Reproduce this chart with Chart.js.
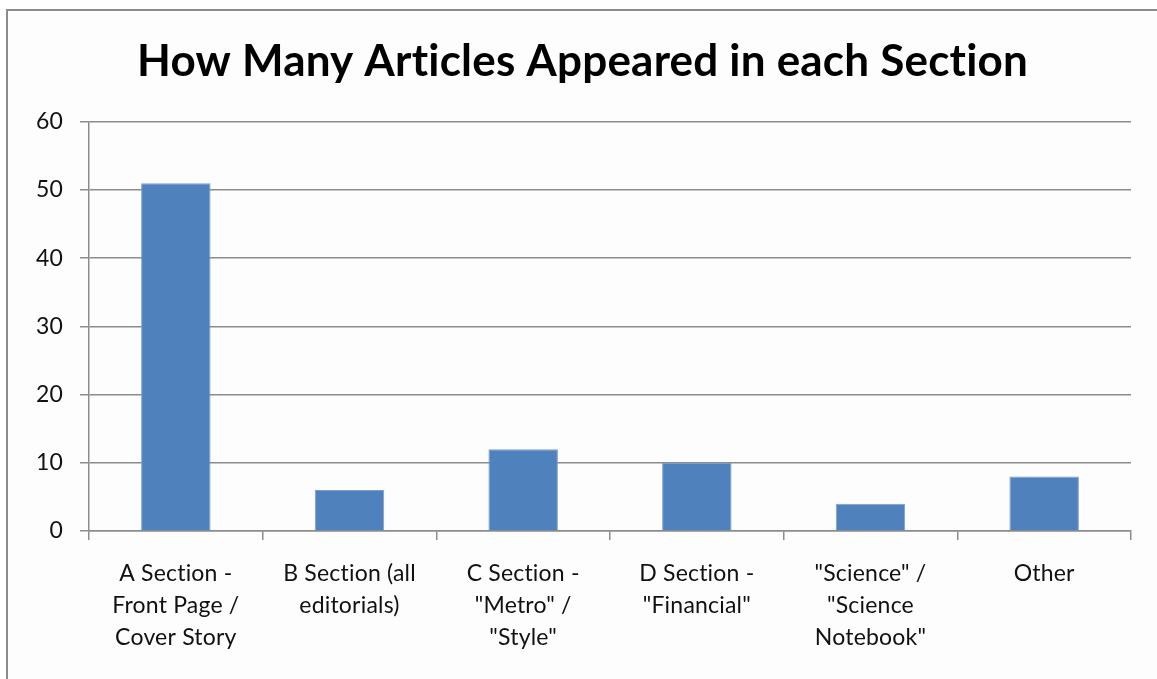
<!DOCTYPE html>
<html>
<head>
<meta charset="utf-8">
<script src="https://cdn.jsdelivr.net/npm/chart.js@4"></script>
<style>
    html, body { margin: 0; padding: 0; background: #fff; overflow: hidden; }
    #frame {
        position: absolute;
        left: 6px;
        top: 9px;
        width: 1200px;
        height: 720px;
        border: 2px solid #8c8c8c;
        background: #fdfdfd;
    }
    #wrap { position: absolute; left: 0; top: 0; width: 1157px; height: 679px; }
</style>
</head>
<body>
<div id="frame"></div>
<div id="wrap"><canvas id="sectionChart" width="1157" height="679"></canvas></div>
<script>
const sections = [
    ['A Section -', 'Front Page /', 'Cover Story'],
    ['B Section (all', 'editorials)'],
    ['C Section -', '"Metro" /', '"Style"'],
    ['D Section -', '"Financial"'],
    ['"Science" /', '"Science', 'Notebook"'],
    'Other',
];
const articleCounts = [51, 6, 12, 10, 4, 8];
const chartTitle = 'How Many Articles Appeared in each Section';

const fontFamily = 'Lato, "Open Sans", sans-serif';
const gridGray = '#8c8c8c';

// a hair of letter spacing keeps Lato from joining "ti" into a ligature,
// and the title is centred on the whole frame instead of the padded area
const tweaks = {
    id: 'tweaks',
    beforeDraw: (chart) => {
        chart.ctx.letterSpacing = '0.2px';
        if (chart.titleBlock) {
            chart.titleBlock.left = 34;
            chart.titleBlock.right = chart.width - 26;
        }
    },
};

new Chart(document.getElementById('sectionChart'), {
    type: 'bar',
    data: {
        labels: sections,
        datasets: [
            {
                label: 'Articles',
                data: articleCounts,
                backgroundColor: '#4f81bd',
                borderColor: '#7aa0cf',
                borderWidth: 1,
                categoryPercentage: 1,
                barPercentage: 0.4,
            },
        ],
    },
    plugins: [tweaks],
    options: {
        responsive: false,
        animation: false,
        layout: {
            padding: { left: 0, right: 26, top: 0, bottom: 0 },
        },
        plugins: {
            legend: { display: false },
            tooltip: { enabled: false },
            title: {
                display: true,
                text: chartTitle,
                color: '#000',
                font: { family: fontFamily, size: 44, weight: 'bold', lineHeight: 1.2 },
                padding: { top: 35, bottom: 34 },
            },
        },
        scales: {
            y: {
                min: 0,
                max: 60,
                ticks: {
                    stepSize: 10,
                    color: '#111',
                    padding: 17,
                    font: { family: fontFamily, size: 23 },
                },
                grid: {
                    color: gridGray,
                    lineWidth: 1.5,
                    tickLength: 9,
                },
                border: { display: true, color: gridGray, width: 1.5 },
                afterFit: (scale) => { scale.width = 89; },
            },
            x: {
                ticks: {
                    color: '#111',
                    padding: 18,
                    maxRotation: 0,
                    autoSkip: false,
                    font: { family: fontFamily, size: 23, lineHeight: 1.39 },
                },
                grid: {
                    offset: true,
                    drawOnChartArea: false,
                    color: gridGray,
                    lineWidth: 1.5,
                    tickLength: 9,
                },
                border: { display: true, color: gridGray, width: 1.5 },
                afterFit: (scale) => { scale.height = 148; },
            },
        },
    },
});
</script>
</body>
</html>
